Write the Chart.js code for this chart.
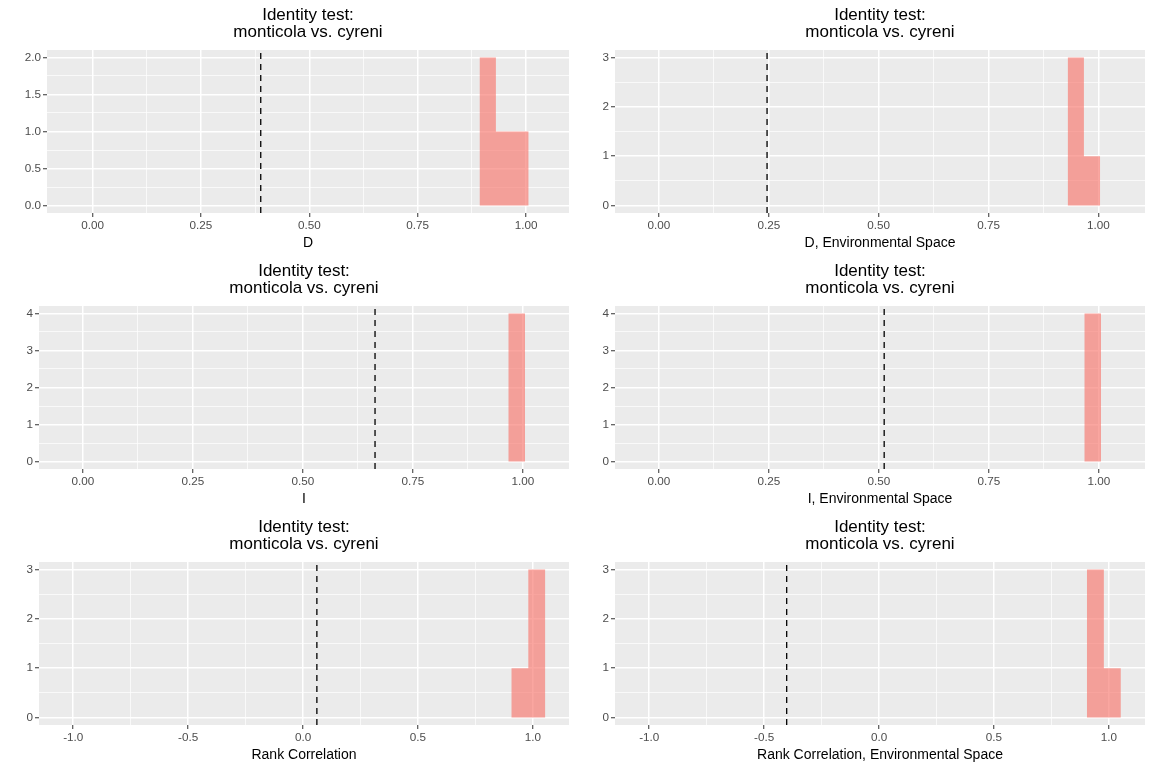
<!DOCTYPE html>
<html>
<head>
<meta charset="utf-8">
<script src="https://cdn.jsdelivr.net/npm/chart.js@4.4.1/dist/chart.umd.min.js"></script>
<style>
  html, body { margin: 0; padding: 0; background: #fff; }
  #grid { display: grid; grid-template-columns: 576px 576px; grid-template-rows: 256px 256px 256px; width: 1152px; height: 768px; }
  canvas { display: block; }
</style>
</head>
<body>
<div id="grid">
  <canvas id="p0" width="576" height="256"></canvas>
  <canvas id="p1" width="576" height="256"></canvas>
  <canvas id="p2" width="576" height="256"></canvas>
  <canvas id="p3" width="576" height="256"></canvas>
  <canvas id="p4" width="576" height="256"></canvas>
  <canvas id="p5" width="576" height="256"></canvas>
</div>
<script>
// data
const panelTitle = ['Identity test:', 'monticola vs. cyreni'];
const xTitles = ['D', 'D, Environmental Space', 'I', 'I, Environmental Space',
  'Rank Correlation', 'Rank Correlation, Environmental Space'];

// histogram bin edges and counts (replicate null distribution)
const binEdges = [
  [0.8926, 0.9304, 0.9682, 1.0060],
  [0.930, 0.967, 1.004],
  [0.967, 1.005],
  [0.967, 1.005],
  [0.906, 0.980, 1.054],
  [0.904, 0.978, 1.052]
];
const binCounts = [
  [2, 1, 1],
  [3, 1],
  [4],
  [4],
  [1, 3],
  [3, 1]
];
// observed overlap (dashed line)
const observed = [0.388, 0.246, 0.664, 0.512, 0.06, -0.402];

const xLimits = [[-0.105, 1.099], [-0.1, 1.106], [-0.1, 1.105], [-0.1, 1.105], [-1.149, 1.157], [-1.149, 1.157]];
const yLimits = [[-0.1, 2.1], [-0.15, 3.15], [-0.2, 4.2], [-0.2, 4.2], [-0.15, 3.15], [-0.15, 3.15]];

const unitTicks = [0, 0.25, 0.5, 0.75, 1];
const unitTickLabels = ['0.00', '0.25', '0.50', '0.75', '1.00'];
const corTicks = [-1, -0.5, 0, 0.5, 1];
const corTickLabels = ['-1.0', '-0.5', '0.0', '0.5', '1.0'];
const xTicks = [unitTicks, unitTicks, unitTicks, unitTicks, corTicks, corTicks];
const xTickLabels = [unitTickLabels, unitTickLabels, unitTickLabels, unitTickLabels, corTickLabels, corTickLabels];

const yTicks = [[0, 0.5, 1, 1.5, 2], [0, 1, 2, 3], [0, 1, 2, 3, 4], [0, 1, 2, 3, 4], [0, 1, 2, 3], [0, 1, 2, 3]];
const yTickLabels = [
  ['0.0', '0.5', '1.0', '1.5', '2.0'],
  ['0', '1', '2', '3'],
  ['0', '1', '2', '3', '4'],
  ['0', '1', '2', '3', '4'],
  ['0', '1', '2', '3'],
  ['0', '1', '2', '3']
];

// layout
const plotLeft = [47, 39, 39, 39, 39, 39];
const FONT = 'Liberation Sans, Arial, Helvetica, sans-serif';

const panelBackground = {
  id: 'panelBackground',
  beforeDraw(chart) {
    const a = chart.chartArea;
    const c = chart.ctx;
    c.save();
    c.fillStyle = '#EBEBEB';
    c.fillRect(a.left, a.top, a.right - a.left, a.bottom - a.top);
    c.restore();
  }
};

// majors plus minor ticks halfway between, kept inside the limits
function withMinor(majors, lo, hi) {
  const step = majors[1] - majors[0];
  const out = majors.map(v => ({ value: v, minor: false }));
  const minors = [majors[0] - step / 2];
  majors.forEach(v => minors.push(v + step / 2));
  minors.forEach(v => { if (v > lo && v < hi) out.push({ value: v, minor: true }); });
  return out.sort((a, b) => a.value - b.value);
}

function axisOpts(majors, labels, lim) {
  return {
    type: 'linear',
    min: lim[0],
    max: lim[1],
    afterBuildTicks: s => { s.ticks = withMinor(majors, lim[0], lim[1]); },
    ticks: {
      autoSkip: false,
      maxRotation: 0,
      minRotation: 0,
      padding: 2,
      color: '#4D4D4D',
      font: { family: FONT, size: 11.7 },
      callback: function(value, index, ticks) {
        if (ticks[index].minor) return '';
        const i = majors.findIndex(m => Math.abs(m - value) < 1e-9);
        return i >= 0 ? labels[i] : '';
      }
    },
    grid: {
      color: '#FFFFFF',
      lineWidth: ctx => (ctx.tick && ctx.tick.minor) ? 0.7 : 1.5,
      drawTicks: true,
      tickLength: 4,
      tickWidth: 1,
      tickColor: ctx => (ctx.tick && ctx.tick.minor) ? 'rgba(0,0,0,0)' : '#333333'
    },
    border: { display: false }
  };
}

for (let p = 0; p < 6; p++) {
  const edges = binEdges[p];
  const counts = binCounts[p];
  const histPoints = edges.map((e, i) => ({ x: e, y: i < counts.length ? counts[i] : 0 }));
  const vline = [{ x: observed[p], y: yLimits[p][0] }, { x: observed[p], y: yLimits[p][1] }];

  const xAxis = axisOpts(xTicks[p], xTickLabels[p], xLimits[p]);
  xAxis.title = {
    display: true,
    text: xTitles[p],
    color: '#000000',
    font: { family: FONT, size: 14, lineHeight: 1.2 },
    padding: { top: 0, bottom: 4.6 }
  };
  xAxis.afterFit = s => { s.height = 43; };

  const yAxis = axisOpts(yTicks[p], yTickLabels[p], yLimits[p]);
  yAxis.afterFit = s => { s.width = plotLeft[p]; };

  new Chart(document.getElementById('p' + p), {
    type: 'line',
    data: {
      datasets: [
        {
          data: histPoints,
          stepped: true,
          fill: 'origin',
          backgroundColor: 'rgba(248, 118, 109, 0.65)',
          borderColor: 'rgba(0,0,0,0)',
          borderWidth: 0,
          pointRadius: 0
        },
        {
          data: vline,
          borderColor: '#000000',
          borderWidth: 1.3,
          borderDash: [6, 5],
          pointRadius: 0,
          fill: false,
          clip: 0
        }
      ]
    },
    options: {
      responsive: false,
      animation: false,
      layout: { padding: { top: 0, left: 0, right: 7, bottom: 0 } },
      plugins: {
        legend: { display: false },
        tooltip: { enabled: false },
        title: {
          display: true,
          text: panelTitle,
          fullSize: false,
          color: '#000000',
          font: { family: FONT, size: 17, weight: 'normal', lineHeight: 1.0 },
          padding: { top: 6.5, bottom: 9.5 }
        }
      },
      scales: { x: xAxis, y: yAxis }
    },
    plugins: [panelBackground]
  });
}
</script>
</body>
</html>
